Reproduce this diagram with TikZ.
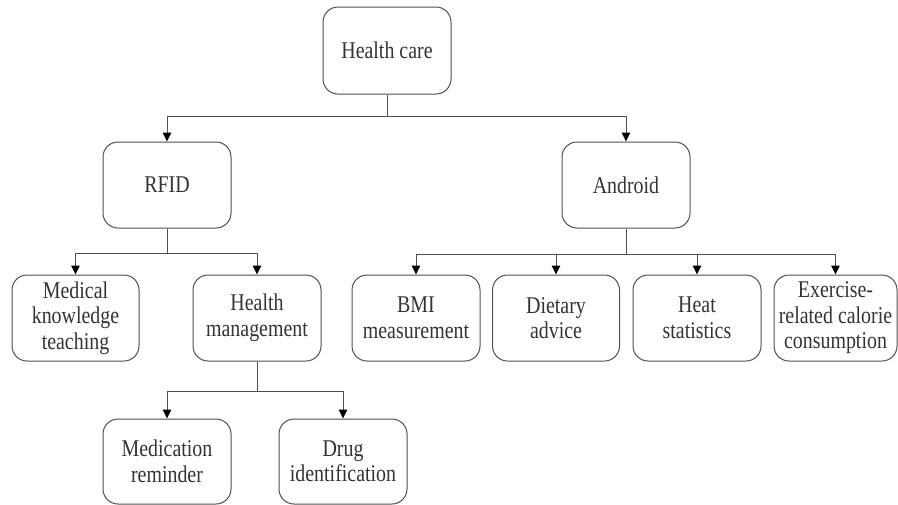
\documentclass[tikz,border=0pt]{standalone}
\usepackage{fontspec}
\setmainfont{Liberation Serif}[FakeStretch=0.83]
\usetikzlibrary{arrows.meta}
\definecolor{linec}{HTML}{505050}
\definecolor{textc}{HTML}{333333}
\tikzset{
  box/.style={draw=linec, line width=1pt, rounded corners=15pt, align=center,
    text=textc, font=\fontsize{24}{25.5}\selectfont, inner sep=0pt},
  conn/.style={draw=linec, line width=1pt},
  arr/.style={conn, -{Triangle[length=9pt,width=8.5pt,fill=black,color=black]}},
}
\begin{document}
\begin{tikzpicture}[x=1pt,y=-1pt]
\useasboundingbox (0,0) rectangle (898,504);
\node[box, minimum width=128pt, minimum height=87pt] (hc) at (387,50.5) {Health care};
\node[box, minimum width=128pt, minimum height=86pt] (rfid) at (167,185) {RFID};
\node[box, minimum width=128pt, minimum height=86pt] (android) at (626,185) {Android};
\node[box, minimum width=127pt, minimum height=86pt] (mk) at (75.5,318) {Medical\\knowledge\\teaching};
\node[box, minimum width=128pt, minimum height=86pt] (hm) at (257,318) {Health\\management};
\node[box, minimum width=128pt, minimum height=86pt] (bmi) at (416,318) {BMI\\measurement};
\node[box, minimum width=127pt, minimum height=86pt] (diet) at (556,318) {Dietary\\advice};
\node[box, minimum width=128pt, minimum height=86pt] (heat) at (697,318) {Heat\\statistics};
\node[box, minimum width=123pt, minimum height=86pt] (ex) at (835.5,318) {Exercise-\\related calorie\\consumption};
\node[box, minimum width=128pt, minimum height=85pt] (med) at (167,461.5) {Medication\\reminder};
\node[box, minimum width=128pt, minimum height=85pt] (drug) at (343,461.5) {Drug\\identification};
\coordinate (j1) at (387,116);
\coordinate (j2) at (167,253);
\coordinate (j3) at (626,254);
\coordinate (j4) at (257,391);
\draw[conn] (hc) -- (j1);
\draw[arr] (j1) -| (rfid);
\draw[arr] (j1) -| (android);
\draw[conn] (rfid) -- (j2);
\draw[arr] (j2) -| (mk);
\draw[arr] (j2) -| (hm);
\draw[conn] (android) -- (j3);
\draw[arr] (j3) -| (bmi);
\draw[arr] (j3) -| (diet);
\draw[arr] (j3) -| (heat);
\draw[arr] (j3) -| (ex);
\draw[conn] (hm) -- (j4);
\draw[arr] (j4) -| (med);
\draw[arr] (j4) -| (drug);
\end{tikzpicture}
\end{document}
